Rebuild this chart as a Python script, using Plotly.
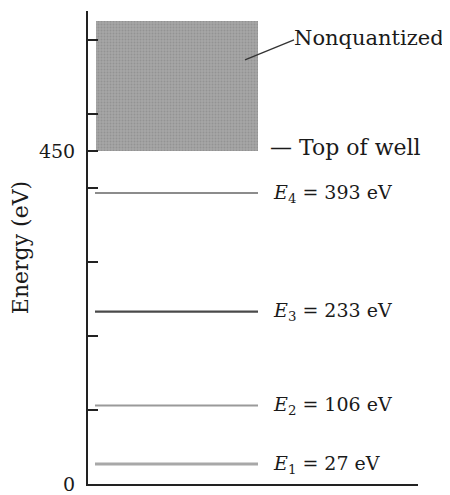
import plotly.graph_objects as go

# ---- data ----
level_names = ["E1", "E2", "E3", "E4"]
level_subs = ["1", "2", "3", "4"]
level_energies = [27, 106, 233, 393]          # eV
well_top = 450                                 # eV
continuum_top = 625                            # eV (top of shaded region)
y_tick_vals = [0, 100, 200, 300, 400, 450, 500, 600]
y_tick_text = ["0", "", "", "", "", "450", "", ""]

FONT = "DejaVu Serif"
level_colors = ["#a8a8a8", "#9a9a9a", "#4a4a4a", "#8c8c8c"]
level_widths = [3, 2, 2.2, 2]

fig = go.Figure()

# shaded nonquantized region
fig.add_trace(go.Bar(
    x=[89], y=[continuum_top - well_top], base=[well_top], width=[162],
    marker=dict(color="#a6a6a6", line=dict(width=0),
                pattern=dict(shape=".", fgcolor="#808080", size=3, solidity=0.3)),
    showlegend=False, hoverinfo="skip",
))

# energy levels
for e, c, w in zip(level_energies, level_colors, level_widths):
    fig.add_trace(go.Scatter(
        x=[7, 170], y=[e, e], mode="lines",
        line=dict(color=c, width=w), showlegend=False, hoverinfo="skip",
    ))

# labels for levels
for sub, e in zip(level_subs, level_energies):
    fig.add_annotation(
        x=183, y=e, xref="x", yref="y", xanchor="left", yanchor="middle",
        text=f"<i>E</i><sub>{sub}</sub> = {e} eV", showarrow=False,
        font=dict(family=FONT, size=19, color="#1a1a1a"),
    )

# top of well
fig.add_annotation(
    x=180, y=well_top + 4, xref="x", yref="y", xanchor="left", yanchor="middle",
    text="— Top of well", showarrow=False,
    font=dict(family=FONT, size=22, color="#1a1a1a"),
)

# nonquantized
fig.add_annotation(
    x=204, y=603, xref="x", yref="y", xanchor="left", yanchor="middle",
    text="Nonquantized", showarrow=False,
    font=dict(family=FONT, size=21, color="#1a1a1a"),
)
fig.add_shape(type="line", x0=157, y0=573, x1=206, y1=600, xref="x", yref="y",
              line=dict(color="#333", width=1.3))

# page body has an 8px margin: figure is sized/offset to compensate
fig.update_layout(
    width=442, height=487,
    margin=dict(l=80, r=32, t=3, b=11, autoexpand=False),
    paper_bgcolor="white", plot_bgcolor="white",
    bargap=0,
    xaxis=dict(range=[0, 330], showline=True, linecolor="#222", linewidth=2,
               showticklabels=False, ticks="", showgrid=False, zeroline=False,
               fixedrange=True, automargin=False),
    yaxis=dict(range=[0, 639], showline=True, linecolor="#222", linewidth=2,
               tickvals=y_tick_vals, ticktext=y_tick_text,
               ticks="inside", ticklen=10, tickwidth=1.5, tickcolor="#222",
               ticklabelstandoff=7, automargin=False,
               tickfont=dict(family=FONT, size=19, color="#1a1a1a"),
               showgrid=False, zeroline=False,
               title=dict(text="Energy (eV)", standoff=8,
                          font=dict(family=FONT, size=22, color="#1a1a1a"))),
)

fig.write_html("out.html")
